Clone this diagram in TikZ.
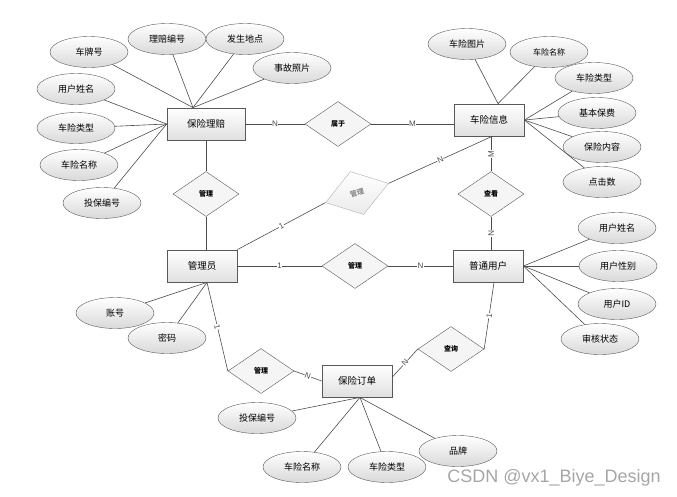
\documentclass[tikz,border=0pt]{standalone}
\usepackage{fontspec}
\setmainfont{Noto Sans CJK SC}
\newfontfamily\labfont{Liberation Sans}
\usetikzlibrary{shapes.geometric,shadows}

\begin{document}
\begin{tikzpicture}[x=1pt,y=-1pt,
    entity/.style={draw=black!65,line width=0.8pt,minimum width=70pt,minimum height=32pt,inner sep=0pt,
        top color=white,bottom color=black!12,font=\fontsize{9.5}{11}\selectfont,
        drop shadow={opacity=0.25,shadow xshift=1pt,shadow yshift=-1pt}},
    attr/.style={draw=black!65,ellipse,minimum width=78pt,minimum height=31pt,inner sep=0pt,
        top color=white,bottom color=black!15,font=\fontsize{9}{11}\selectfont},
    rel/.style={draw=black!65,diamond,aspect=1.5,minimum width=66pt,minimum height=45pt,inner sep=0pt,
        fill=black!4,font=\fontsize{7}{8}\selectfont\bfseries},
    link/.style={black!70,line width=0.6pt},
    card/.style={fill=white,inner sep=0.5pt,font=\labfont\fontsize{8}{9}\selectfont,sloped}]
    \useasboundingbox (0,0) rectangle (677,496);

    % entities
    \node[entity,minimum width=78pt] (blp) at (206,124) {保险理赔};
    \node[entity] (clxx) at (489,120) {车险信息};
    \node[entity] (gly) at (202,266) {管理员};
    \node[entity] (ptyh) at (488,266) {普通用户};
    \node[entity] (bxdd) at (357,381) {保险订单};

    % relations
    \node[rel] (shuyu) at (338,124) {属于};
    \node[rel] (gl1) at (206,194) {管理};
    \node[rel,draw=black!30,text=black!45,top color=white,bottom color=black!8,rotate=17] (gl2) at (357,193) {管理};
    \node[rel] (chakan) at (491,194) {查看};
    \node[rel] (gl3) at (355,266) {管理};
    \node[rel] (gl4) at (261,371) {管理};
    \node[rel] (chaxun) at (451,349) {查询};

    % attributes
    \foreach \n/\t/\p in {cph/车牌号/{(89,52)}, lpbh/理赔编号/{(167,39)}, fsdd/发生地点/{(245,39)},
        sgzp/事故照片/{(292,68)}, yhxma/用户姓名/{(76,89)}, cxlxa/车险类型/{(76,128)},
        cxmca/车险名称/{(79,165)}, tbbha/投保编号/{(102,203)},
        cxtp/车险图片/{(467,44)}, cxlxb/车险类型/{(594,78)}, jbbf/基本保费/{(597,113)},
        bxnr/保险内容/{(602,147)}, djs/点击数/{(602,182)},
        yhxmb/用户姓名/{(617,228)}, yhxb/用户性别/{(618,266)}, yhid/用户ID/{(617,304)},
        shzt/审核状态/{(600,339)}, zh/账号/{(115,313)}, mm/密码/{(167,338)},
        tbbhb/投保编号/{(257,418)}, cxmcc/车险名称/{(302,467)}, cxlxc/车险类型/{(387,467)}, pp/品牌/{(458,451)}}
        \node[attr] (\n) at \p {\t};
    \node[attr,font=\fontsize{8}{9}\selectfont] (cxmcb) at (549,52) {车险名称};

    \foreach \a in {cph,lpbh,fsdd,sgzp} \draw[link] (\a) -- ([xshift=-13pt]blp.north);
    \foreach \a in {yhxma,cxlxa,cxmca,tbbha} \draw[link] (\a) -- (blp.west);
    \foreach \a in {cxtp,cxmcb} \draw[link] (\a) -- ([xshift=9pt]clxx.north);
    \foreach \a in {cxlxb,jbbf,bxnr,djs} \draw[link] (\a) -- (clxx.east);
    \foreach \a in {yhxmb,yhxb,yhid,shzt} \draw[link] (\a) -- (ptyh.east);
    \foreach \a in {zh,mm} \draw[link] (\a) -- ([xshift=5pt]gly.south);
    \foreach \a in {tbbhb,cxmcc,cxlxc,pp} \draw[link] (\a) -- ([xshift=3pt]bxdd.south);

    % relation lines
    \draw[link] (blp.east) -- node[card]{N} (shuyu.west);
    \draw[link] (shuyu.east) -- node[card]{M} (shuyu.east -| clxx.west);
    \draw[link] (blp.south) -- (gl1.north);
    \draw[link] (gl1.south) -- (gl1.south |- gly.north);
    \draw[link] (gly.north east) -- node[card]{1} (gl2.west);
    \draw[link] (gl2.east) -- node[card]{N} ([xshift=3pt]clxx.south);
    \draw[link] (chakan.north) -- node[card]{M} (chakan.north |- clxx.south);
    \draw[link] (chakan.south) -- node[card]{N} (chakan.south |- ptyh.north);
    \draw[link] (gly.east) -- node[card]{1} (gl3.west);
    \draw[link] (gl3.east) -- node[card]{N} (ptyh.west);
    \draw[link] ([xshift=5pt]gly.south) -- node[card]{1} (gl4.west);
    \draw[link] (gl4.east) -- node[card]{N} (bxdd.west);
    \draw[link] ([xshift=6pt]ptyh.south) -- node[card]{1} (chaxun.east);
    \draw[link] (chaxun.west) -- node[card]{N} ([yshift=4pt]bxdd.east);

    \node[font=\labfont\fontsize{18}{20}\selectfont,text=black!35] (wm) at (554,478) {CSDN @vx1\_Biye\_Design};
\end{tikzpicture}
\end{document}
